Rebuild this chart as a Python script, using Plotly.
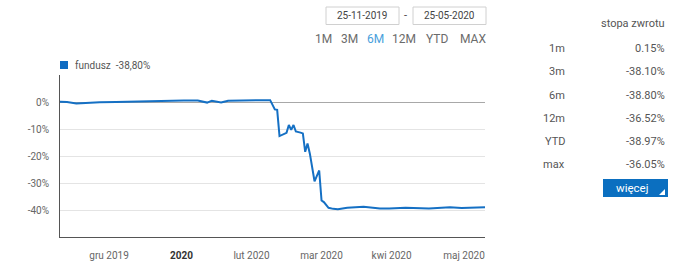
import plotly.graph_objects as go

# ---- data ----
dates = [
    "2019-11-25", "2019-11-28", "2019-12-02", "2019-12-05", "2019-12-12", "2019-12-19",
    "2019-12-27", "2020-01-03", "2020-01-10", "2020-01-17", "2020-01-23", "2020-01-27",
    "2020-01-29", "2020-02-02", "2020-02-05", "2020-02-10", "2020-02-14", "2020-02-19",
    "2020-02-23", "2020-02-25", "2020-02-26", "2020-02-27", "2020-03-01", "2020-03-02",
    "2020-03-03", "2020-03-04", "2020-03-05", "2020-03-07", "2020-03-08", "2020-03-09",
    "2020-03-10", "2020-03-11", "2020-03-13", "2020-03-15", "2020-03-16", "2020-03-17",
    "2020-03-19", "2020-03-21", "2020-03-23", "2020-03-27", "2020-04-03", "2020-04-10",
    "2020-04-14", "2020-04-21", "2020-05-01", "2020-05-10", "2020-05-15", "2020-05-25",
]
values = [
    0.2, 0.1, -0.4, -0.2, 0.0, 0.1,
    0.3, 0.4, 0.6, 0.7, 0.7, -0.1,
    0.6, -0.1, 0.6, 0.7, 0.8, 0.9,
    0.8, -2.6, -2.8, -12.5, -11.3, -8.4,
    -10.2, -8.4, -10.8, -11.2, -11.5, -18.3,
    -15.2, -19.0, -29.2, -25.2, -36.3, -36.9,
    -39.0, -39.4, -39.5, -39.0, -38.6, -39.3,
    -39.3, -39.0, -39.3, -38.8, -39.1, -38.8,
]
series_name = "fundusz"
series_label = "fundusz  -38,80%"

x_tick_vals = ["2019-12-16", "2020-01-16", "2020-02-15", "2020-03-16", "2020-04-15", "2020-05-16"]
x_tick_text = ["gru 2019", "<b><span style='color:#333'>2020</span></b>", "lut 2020",
               "mar 2020", "kwi 2020", "maj 2020"]
y_tick_vals = [0, -10, -20, -30, -40]
y_tick_text = ["0%", "-10%", "-20%", "-30%", "-40%"]

date_from = "25-11-2019"
date_to = "25-05-2020"
range_buttons = ["1M", "3M", "6M", "12M", "YTD", "MAX"]
active_button = "6M"

table_header = "stopa zwrotu"
period_labels = ["1m", "3m", "6m", "12m", "YTD", "max"]
period_returns = ["0.15%", "-38.10%", "-38.80%", "-36.52%", "-38.97%", "-36.05%"]
more_label = "więcej"

# ---- layout geometry (pixels) ----
W, H = 680, 274
L, R, T, B = 60, 485, 75, 237

def px(x):
    return (x - L) / (R - L)

def py(y):
    return (B - y) / (B - T)

FONT = "Roboto"
GREY = "#666666"
BLUE = "#1570c4"

fig = go.Figure()
fig.add_trace(go.Scatter(
    x=dates, y=values, mode="lines", name=series_name,
    line=dict(color=BLUE, width=2), hoverinfo="skip", showlegend=False,
))

shapes = []
annotations = []

# legend
shapes.append(dict(type="rect", xref="paper", yref="paper",
                   x0=px(60), x1=px(68), y0=py(69), y1=py(61),
                   fillcolor="#0f6cc2", line=dict(width=0)))
annotations.append(dict(text=series_label, xref="paper", yref="paper",
                        x=px(73), y=py(65.5), xanchor="left", yanchor="middle",
                        showarrow=False, font=dict(family=FONT, size=10, color="#555")))

# date boxes
for (x0, x1, txt) in [(326, 399, date_from), (413, 486, date_to)]:
    shapes.append(dict(type="rect", xref="paper", yref="paper",
                       x0=px(x0), x1=px(x1), y0=py(24.5), y1=py(7),
                       line=dict(color="#d0d0d0", width=1), fillcolor="white"))
    annotations.append(dict(text=txt, xref="paper", yref="paper",
                            x=px((x0 + x1) / 2), y=py(16), xanchor="center", yanchor="middle",
                            showarrow=False, font=dict(family=FONT, size=10, color="#444")))
annotations.append(dict(text="-", xref="paper", yref="paper", x=px(405.5), y=py(16),
                        xanchor="center", yanchor="middle", showarrow=False,
                        font=dict(family=FONT, size=11, color="#444")))

# range buttons
btn_x = [323, 349.5, 375, 404, 436.5, 473]
for lbl, bx in zip(range_buttons, btn_x):
    annotations.append(dict(text=lbl, xref="paper", yref="paper", x=px(bx), y=py(38.5),
                            xanchor="center", yanchor="middle", showarrow=False,
                            font=dict(family=FONT, size=12, color="#4a9fdc" if lbl == active_button else "#6b6b6b")))

# returns table
annotations.append(dict(text=table_header, xref="paper", yref="paper", x=px(667), y=py(23.5),
                        xanchor="right", yanchor="middle", showarrow=False,
                        font=dict(family=FONT, size=11, color="#555")))
row_y = [48.5, 72, 95, 118.5, 141.5, 164]
for lbl, val, ry in zip(period_labels, period_returns, row_y):
    annotations.append(dict(text=lbl, xref="paper", yref="paper", x=px(567), y=py(ry),
                            xanchor="right", yanchor="middle", showarrow=False,
                            font=dict(family=FONT, size=11, color="#555")))
    annotations.append(dict(text=val, xref="paper", yref="paper", x=px(667), y=py(ry),
                            xanchor="right", yanchor="middle", showarrow=False,
                            font=dict(family=FONT, size=11, color="#555")))

# more button
shapes.append(dict(type="rect", xref="paper", yref="paper",
                   x0=px(603), x1=px(668), y0=py(197), y1=py(179),
                   fillcolor="#0b6fc0", line=dict(width=0)))
shapes.append(dict(type="path", xref="paper", yref="paper",
                   path=f"M {px(665)} {py(189)} L {px(665)} {py(195)} L {px(659)} {py(195)} Z",
                   fillcolor="white", line=dict(width=0)))
annotations.append(dict(text=more_label, xref="paper", yref="paper", x=px(632), y=py(187.5),
                        xanchor="center", yanchor="middle", showarrow=False,
                        font=dict(family=FONT, size=11.5, color="white")))

fig.update_layout(
    width=W, height=H,
    margin=dict(l=L, r=W - R, t=T, b=H - B, pad=0),
    paper_bgcolor="white", plot_bgcolor="white",
    font=dict(family=FONT, size=10, color=GREY),
    showlegend=False,
    shapes=shapes, annotations=annotations,
    xaxis=dict(
        type="date", range=["2019-11-25", "2020-05-25"],
        tickvals=x_tick_vals, ticktext=x_tick_text,
        showgrid=False, zeroline=False,
        showline=True, linecolor="#555", linewidth=1,
        ticks="", ticklabelstandoff=9,
        tickfont=dict(family=FONT, size=10, color=GREY),
        fixedrange=True,
    ),
    yaxis=dict(
        range=[-49.8, 10.1],
        tickvals=y_tick_vals, ticktext=y_tick_text,
        showgrid=True, gridcolor="#e4e4e4", gridwidth=1,
        zeroline=True, zerolinecolor="#a8a8a8", zerolinewidth=1,
        showline=True, linecolor="#555", linewidth=1,
        ticks="", ticklabelstandoff=8,
        tickfont=dict(family=FONT, size=10, color=GREY),
        fixedrange=True,
    ),
)

fig.write_html("out.html", config={"displayModeBar": False})
